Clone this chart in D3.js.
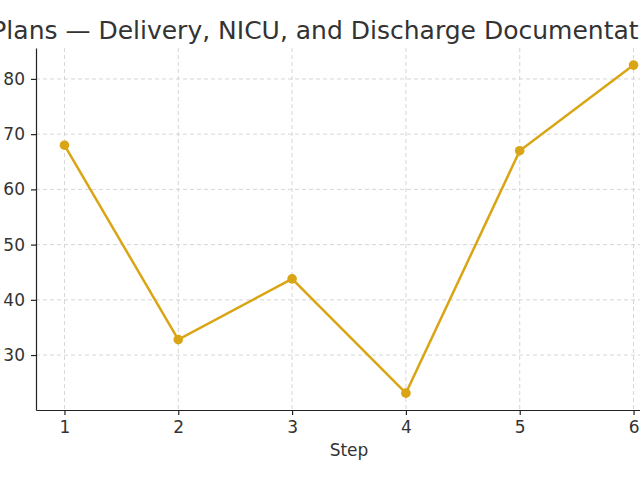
<!DOCTYPE html><html><head><meta charset="utf-8"><script src="https://cdn.jsdelivr.net/npm/d3@7"></script>
<style>body{margin:0;overflow:hidden}</style></head><body><svg id="c" width="640" height="480"></svg>
<script>
const steps=[1,2,3,4,5,6];
const values=[68.0,32.8,43.8,23.1,67.0,82.5];
const yTicks=[30,40,50,60,70,80];
const title="Birth Plans — Delivery, NICU, and Discharge Documentation";
const svg=d3.select("#c"),L=36,R=662,T=48,B=410;
const x=d3.scaleLinear().domain([0.75,6.25]).range([L,R]);
const y=d3.scaleLinear().domain([20.05,85.6]).range([B,T]);
const f="DejaVu Sans, sans-serif",col="#d9a514";
const g=svg.append("g");
g.selectAll(".vx").data(steps).enter().append("line").attr("x1",d=>x(d)).attr("x2",d=>x(d)).attr("y1",T).attr("y2",B).attr("stroke","#ccc").attr("stroke-dasharray","4,3").attr("stroke-width",0.8);
g.selectAll(".hy").data(yTicks).enter().append("line").attr("x1",L).attr("x2",R).attr("y1",d=>y(d)).attr("y2",d=>y(d)).attr("stroke","#ccc").attr("stroke-dasharray","4,3").attr("stroke-width",0.8);
const xa=svg.append("g").attr("transform",`translate(0,${B})`).call(d3.axisBottom(x).tickValues(steps).tickFormat(d3.format("d")).tickSize(5).tickPadding(6).tickSizeOuter(0));
const ya=svg.append("g").attr("transform",`translate(${L},0)`).call(d3.axisLeft(y).tickValues(yTicks).tickFormat(d3.format("d")).tickSize(5).tickPadding(6).tickSizeOuter(0));
[xa,ya].forEach(a=>{a.selectAll("text").attr("font-family",f).attr("font-size",17).attr("fill","#333");a.selectAll("line,path").attr("stroke","#222").attr("stroke-width",1.2);});
svg.append("path").datum(values).attr("fill","none").attr("stroke",col).attr("stroke-width",2.5)
 .attr("d",d3.line().x((d,i)=>x(steps[i])).y(d=>y(d)));
svg.selectAll(".pt").data(values).enter().append("circle").attr("cx",(d,i)=>x(steps[i])).attr("cy",d=>y(d)).attr("r",4.8).attr("fill",col);
svg.append("text").attr("x",349).attr("y",456).attr("text-anchor","middle").attr("font-family",f).attr("font-size",17).attr("fill","#333").text("Step");
svg.append("text").attr("x",300).attr("y",39).attr("text-anchor","middle").attr("font-family",f).attr("font-size",25).attr("fill","#333").text(title);
</script></body></html>
